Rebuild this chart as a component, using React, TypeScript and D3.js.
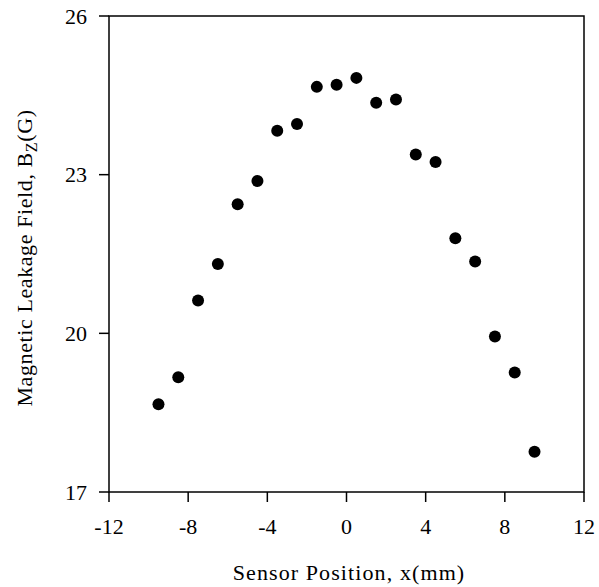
import React from "react";
import * as d3 from "d3";

const positions = [-9.5, -8.5, -7.5, -6.5, -5.5, -4.5, -3.5, -2.5, -1.5, -0.5, 0.5, 1.5, 2.5, 3.5, 4.5, 5.5, 6.5, 7.5, 8.5, 9.5];
const fieldValues = [18.66, 19.17, 20.62, 21.31, 22.44, 22.88, 23.83, 23.96, 24.66, 24.70, 24.83, 24.36, 24.42, 23.38, 23.24, 21.80, 21.36, 19.94, 19.26, 17.76];
const xTicks = [-12, -8, -4, 0, 4, 8, 12];
const yTicks = [17, 20, 23, 26];

const W = 599;
const H = 587;
const left = 109;
const right = 584;
const top = 16;
const bottom = 492;

export default function App() {
  const x = d3.scaleLinear().domain([-12, 12]).range([left, right]);
  const y = d3.scaleLinear().domain([17, 26]).range([bottom, top]);
  const font = "'Liberation Serif', 'Times New Roman', serif";
  return (
    <svg width={W} height={H} style={{ position: "absolute", left: 0, top: 0, background: "#fff" }}>
      <rect x={left} y={top} width={right - left} height={bottom - top} fill="none" stroke="#000" strokeWidth={1.5} />
      {yTicks.map((t) => (
        <g key={"y" + t}>
          <line x1={left - 10} x2={left} y1={y(t)} y2={y(t)} stroke="#000" strokeWidth={1.5} />
          <text x={87} y={y(t) + 7.5} textAnchor="end" fontFamily={font} fontSize={22} fill="#000">{t}</text>
        </g>
      ))}
      {xTicks.map((t) => (
        <g key={"x" + t}>
          <line x1={x(t)} x2={x(t)} y1={bottom} y2={bottom + 10} stroke="#000" strokeWidth={1.5} />
          <text x={x(t)} y={534} textAnchor="middle" fontFamily={font} fontSize={22} fill="#000">{t}</text>
        </g>
      ))}
      {positions.map((p, i) => (
        <circle key={i} cx={x(p)} cy={y(fieldValues[i])} r={6} fill="#000" />
      ))}
      <text x={349} y={580} textAnchor="middle" fontFamily={font} fontSize={22} letterSpacing={1.1} fill="#000">Sensor Position, x(mm)</text>
      <text transform={`translate(32,258) rotate(-90)`} textAnchor="middle" fontFamily={font} fontSize={22} letterSpacing={0.6} fill="#000">
        Magnetic Leakage Field, B<tspan fontSize={16} dy={5}>Z</tspan><tspan dy={-5}>(G)</tspan>
      </text>
    </svg>
  );
}
